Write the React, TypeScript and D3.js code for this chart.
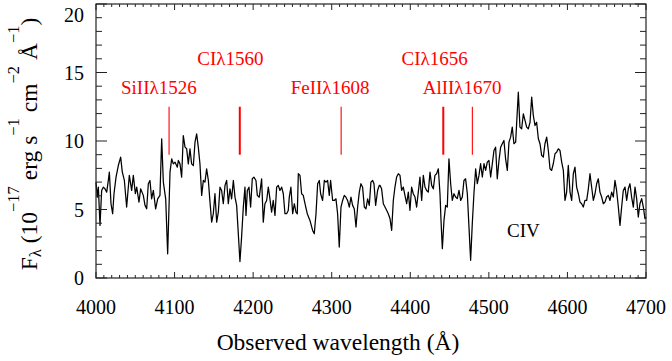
import React from 'react';
import * as d3 from 'd3';

const wave = [
  4000.0, 4001.7, 4003.0, 4005.1, 4007.2, 4009.3, 4011.4, 4013.6, 4015.7, 4017.0,
  4019.1, 4021.2, 4022.9, 4025.5, 4028.4, 4031.4, 4033.5, 4036.1, 4039.0, 4042.4,
  4045.4, 4047.5, 4050.1, 4051.8, 4054.7, 4056.8, 4060.2, 4062.4, 4064.5, 4066.6,
  4068.7, 4070.8, 4073.0, 4075.9, 4078.5, 4081.4, 4083.6, 4085.7, 4088.7, 4091.2,
  4094.2, 4096.3, 4098.4, 4100.5, 4103.5, 4104.8, 4106.9, 4109.0, 4111.1, 4113.3,
  4115.4, 4117.5, 4119.6, 4121.7, 4123.9, 4126.0, 4128.1, 4130.2, 4132.3, 4134.5,
  4136.6, 4138.7, 4140.8, 4143.0, 4145.1, 4147.2, 4149.3, 4151.4, 4153.6, 4155.7,
  4157.8, 4159.9, 4162.0, 4164.2, 4166.3, 4168.4, 4170.5, 4172.6, 4174.8, 4176.9,
  4179.0, 4183.2, 4185.3, 4187.5, 4189.6, 4190.9, 4192.6, 4194.7, 4196.8, 4198.9,
  4201.0, 4203.6, 4205.3, 4207.8, 4210.8, 4212.9, 4215.0, 4217.2, 4219.3, 4221.4,
  4223.5, 4225.6, 4227.8, 4229.9, 4232.0, 4234.1, 4236.3, 4238.4, 4240.5, 4242.6,
  4244.7, 4246.0, 4248.1, 4250.3, 4252.4, 4254.5, 4256.2, 4257.5, 4259.6, 4261.7,
  4263.8, 4266.0, 4268.9, 4272.3, 4275.7, 4277.8, 4280.0, 4282.1, 4284.2, 4285.9,
  4288.4, 4290.6, 4292.7, 4294.8, 4296.9, 4298.6, 4301.2, 4303.3, 4305.4, 4307.5,
  4309.6, 4311.8, 4313.9, 4316.0, 4318.1, 4320.2, 4322.4, 4324.5, 4326.6, 4328.7,
  4330.9, 4333.0, 4335.1, 4337.2, 4339.3, 4341.5, 4343.6, 4345.7, 4347.8, 4349.9,
  4352.1, 4353.8, 4355.9, 4358.4, 4360.5, 4361.4, 4363.5, 4365.7, 4367.8, 4369.9,
  4372.0, 4374.2, 4376.3, 4378.4, 4380.5, 4382.6, 4384.8, 4386.9, 4389.0, 4391.1,
  4393.2, 4395.4, 4397.5, 4399.6, 4401.7, 4403.8, 4406.0, 4408.1, 4410.2, 4412.3,
  4414.5, 4416.6, 4418.7, 4420.8, 4422.9, 4425.1, 4427.2, 4429.3, 4431.4, 4433.5,
  4435.7, 4437.8, 4439.1, 4440.8, 4442.9, 4445.0, 4447.1, 4449.2, 4451.4, 4453.5,
  4455.6, 4457.7, 4459.8, 4462.0, 4464.1, 4466.2, 4468.3, 4470.4, 4472.6, 4474.7,
  4476.8, 4478.9, 4481.0, 4483.2, 4485.3, 4487.4, 4489.5, 4491.7, 4493.8, 4495.9,
  4498.0, 4500.1, 4502.3, 4504.4, 4506.5, 4508.6, 4510.7, 4512.9, 4515.0, 4517.1,
  4519.2, 4521.3, 4523.5, 4525.6, 4527.7, 4529.8, 4531.9, 4534.1, 4537.5, 4539.6,
  4541.7, 4543.9, 4546.0, 4548.1, 4550.2, 4552.4, 4554.5, 4556.6, 4558.7, 4560.8,
  4563.0, 4565.1, 4567.2, 4569.3, 4571.4, 4573.6, 4575.7, 4577.8, 4579.9, 4582.0,
  4584.2, 4586.3, 4588.4, 4590.5, 4592.7, 4594.8, 4596.9, 4599.0, 4601.1, 4603.3,
  4605.4, 4607.5, 4609.6, 4611.7, 4613.9, 4616.0, 4618.1, 4620.2, 4622.3, 4624.5,
  4626.6, 4628.7, 4630.8, 4633.0, 4635.1, 4637.2, 4639.3, 4641.4, 4643.6, 4645.7,
  4647.8, 4649.9, 4652.0, 4654.2, 4656.3, 4658.4, 4660.5, 4662.6, 4664.8, 4666.9,
  4669.0, 4671.1, 4673.3, 4675.4, 4677.5, 4679.6, 4681.7, 4683.9, 4686.0, 4688.1,
  4690.2, 4692.3, 4694.5, 4696.6, 4698.7, 4700.0,
];

const flux = [
  7.0, 5.9, 6.63, 3.84, 6.39, 6.63, 6.51, 6.27, 7.12, 7.73,
  5.42, 4.69, 6.15, 7.36, 8.21, 8.82, 7.73, 7.12, 5.18, 7.49,
  6.39, 7.49, 6.15, 6.63, 5.54, 6.51, 6.03, 5.3, 5.05, 6.88,
  7.12, 5.78, 6.39, 5.05, 5.78, 6.03, 10.16, 7.0, 5.78, 1.77,
  7.73, 8.7, 8.33, 8.46, 8.09, 8.58, 8.33, 7.36, 10.4, 9.55,
  9.43, 8.33, 9.43, 8.33, 8.21, 9.91, 10.52, 9.55, 8.33, 6.03,
  7.12, 7.0, 7.97, 7.12, 5.54, 4.08, 4.69, 6.15, 4.08, 4.81,
  6.63, 6.39, 5.42, 6.76, 7.12, 5.42, 6.51, 5.78, 7.12, 5.9,
  5.3, 1.2, 2.99, 5.18, 6.63, 4.57, 6.39, 6.63, 5.18, 7.24,
  7.36, 7.12, 6.03, 5.9, 7.24, 4.08, 5.42, 5.66, 6.63, 5.78,
  4.81, 5.66, 4.57, 6.63, 6.76, 6.39, 6.63, 6.15, 4.69, 4.69,
  4.93, 5.9, 6.63, 4.69, 5.42, 4.81, 4.69, 7.61, 7.49, 6.15,
  6.03, 5.42, 4.69, 4.2, 3.47, 3.23, 4.69, 6.88, 7.12, 6.15,
  5.66, 7.12, 7.0, 7.12, 6.03, 7.12, 5.66, 5.66, 5.78, 4.69,
  2.26, 5.18, 5.66, 6.03, 5.9, 5.66, 5.18, 5.9, 5.3, 5.05,
  3.72, 5.18, 6.27, 6.88, 6.63, 5.18, 5.05, 5.78, 5.3, 7.0,
  7.12, 6.88, 5.3, 6.39, 6.76, 6.76, 6.51, 5.42, 5.18, 4.94,
  4.69, 4.33, 3.48, 5.66, 6.64, 7.37, 7.61, 7.49, 6.39, 6.64,
  6.03, 5.42, 6.27, 4.94, 6.64, 6.15, 5.91, 5.18, 6.27, 7.37,
  5.66, 7.49, 6.64, 6.39, 6.27, 7.73, 6.76, 6.51, 7.49, 7.61,
  7.97, 6.15, 4.21, 2.14, 4.21, 5.3, 5.18, 8.7, 6.88, 5.66,
  6.15, 5.91, 5.79, 6.39, 5.66, 5.91, 7.12, 7.24, 6.15, 3.72,
  1.29, 3.96, 6.15, 7.97, 6.88, 7.49, 8.34, 7.37, 8.34, 7.85,
  8.46, 8.58, 7.37, 8.34, 9.31, 9.55, 7.24, 8.58, 9.55, 9.8,
  10.04, 8.7, 7.85, 9.92, 10.28, 11.01, 9.8, 9.92, 13.56, 11.01,
  10.89, 11.98, 11.5, 11.01, 10.89, 11.37, 13.2, 11.86, 11.13, 11.37,
  10.16, 9.8, 8.95, 8.82, 9.8, 10.28, 9.31, 7.97, 7.85, 8.34,
  9.07, 9.19, 9.43, 9.31, 8.46, 7.85, 5.66, 6.27, 8.22, 6.27,
  5.66, 7.61, 8.09, 6.64, 6.15, 5.54, 5.42, 5.18, 5.66, 5.66,
  6.51, 7.61, 6.64, 5.66, 6.15, 6.88, 7.24, 6.27, 5.91, 5.42,
  5.54, 5.91, 6.03, 5.66, 6.27, 5.91, 7.12, 6.39, 5.18, 3.84,
  5.18, 6.39, 6.64, 5.66, 6.51, 6.88, 5.91, 5.18, 6.64, 5.79,
  4.45, 5.42, 5.79, 5.18, 4.33, 4.45,
];

const xTicks = [4000, 4100, 4200, 4300, 4400, 4500, 4600, 4700];
const yTicks = [0, 5, 10, 15, 20];

// Absorption line identifications
const lineNames = ['SiIIλ1526', 'CIλ1560', 'FeIIλ1608', 'CIλ1656', 'AlIIλ1670'];
const lineWave = [4093, 4183, 4312, 4442, 4479];
const labelWave = [4080, 4171, 4298, 4431, 4466];
const labelFlux = [13.45, 15.55, 13.45, 15.55, 13.45];
const lineHeavy = [false, true, false, true, false];
const markRange = [9, 12.5];

const emissionName = 'CIV';
const emissionWave = 4544;
const emissionFlux = 3.0;

const W = 672;
const H = 361;
const left = 96;
const right = 646;
const top = 4;
const bottom = 278;
const serif = '"Liberation Serif", "Times New Roman", serif';

export default function App() {
  const x = d3.scaleLinear().domain([4000, 4700]).range([left, right]);
  const y = d3.scaleLinear().domain([0, 20]).range([bottom, top]);

  const pts: [number, number][] = wave.map((w, i) => [w, flux[i]]);
  const path = d3
    .line<[number, number]>()
    .x((d) => x(d[0]))
    .y((d) => y(d[1]))(pts) as string;

  const xMinor = d3.range(4000, 4701, 10);
  const yMinor = d3.range(0, 20.01, 1);

  const axisColor = '#222';
  const sup = 16.5;
  const raise = 18;

  return (
    <svg
      width={W}
      height={H}
      style={{ position: 'absolute', left: 0, top: 0, background: '#fff' }}
      fontFamily={serif}
    >
      <rect x={0} y={0} width={W} height={H} fill="#fff" />
      {/* spectrum */}
      <path d={path} fill="none" stroke="#000" strokeWidth={1.25} strokeLinejoin="round" />

      {/* line markers */}
      {lineNames.map((n, i) => (
        <g key={n}>
          <line
            x1={x(lineWave[i])}
            x2={x(lineWave[i])}
            y1={y(markRange[0])}
            y2={y(markRange[1])}
            stroke="#ff0000"
            strokeWidth={lineHeavy[i] ? 2 : 1.1}
          />
          <text
            x={x(labelWave[i])}
            y={y(labelFlux[i])}
            fill="#ff0000"
            fontSize={19}
            textAnchor="middle"
          >
            {n}
          </text>
        </g>
      ))}
      <text x={x(emissionWave)} y={y(emissionFlux)} fontSize={19} textAnchor="middle" fill="#000">
        {emissionName}
      </text>

      {/* frame */}
      <rect
        x={left}
        y={top}
        width={right - left}
        height={bottom - top}
        fill="none"
        stroke={axisColor}
        strokeWidth={1.2}
      />
      {/* x ticks bottom & top */}
      {xMinor.map((v) => {
        const major = v % 100 === 0;
        const len = major ? 6 : 3;
        return (
          <g key={'xt' + v}>
            <line x1={x(v)} x2={x(v)} y1={bottom} y2={bottom - len} stroke={axisColor} strokeWidth={1} />
            <line x1={x(v)} x2={x(v)} y1={top} y2={top + len} stroke={axisColor} strokeWidth={1} />
          </g>
        );
      })}
      {/* y ticks left & right */}
      {yMinor.map((v) => {
        const major = v % 5 === 0;
        const len = major ? 11 : 6;
        return (
          <g key={'yt' + v}>
            <line x1={left} x2={left + len} y1={y(v)} y2={y(v)} stroke={axisColor} strokeWidth={1} />
            <line x1={right} x2={right - len} y1={y(v)} y2={y(v)} stroke={axisColor} strokeWidth={1} />
          </g>
        );
      })}
      {/* tick labels */}
      {xTicks.map((v) => (
        <text key={'xl' + v} x={x(v)} y={314} fontSize={20} textAnchor="middle" fill="#000">
          {v}
        </text>
      ))}
      {yTicks.map((v) => (
        <text
          key={'yl' + v}
          x={84}
          y={Math.max(y(v), 15)}
          dy="0.35em"
          fontSize={20}
          textAnchor="end"
          fill="#000"
        >
          {v}
        </text>
      ))}
      {/* axis titles */}
      <text x={338} y={350} fontSize={23.5} textAnchor="middle" fill="#000">
        Observed wavelength (Å)
      </text>
      <text transform="translate(37,144) rotate(-90)" fontSize={23.5} textAnchor="middle" fill="#000">
        F<tspan dy={4} fontSize={sup}>λ</tspan>
        <tspan dy={-4}> (10</tspan>
        <tspan dy={-raise} fontSize={sup}>−17</tspan>
        <tspan dy={raise}> erg s</tspan>
        <tspan dy={-raise} fontSize={sup}>−1</tspan>
        <tspan dy={raise}> cm</tspan>
        <tspan dy={-raise} fontSize={sup}>−2</tspan>
        <tspan dy={raise}> Å</tspan>
        <tspan dy={-raise} fontSize={sup}>−1</tspan>
        <tspan dy={raise}>)</tspan>
      </text>
    </svg>
  );
}
